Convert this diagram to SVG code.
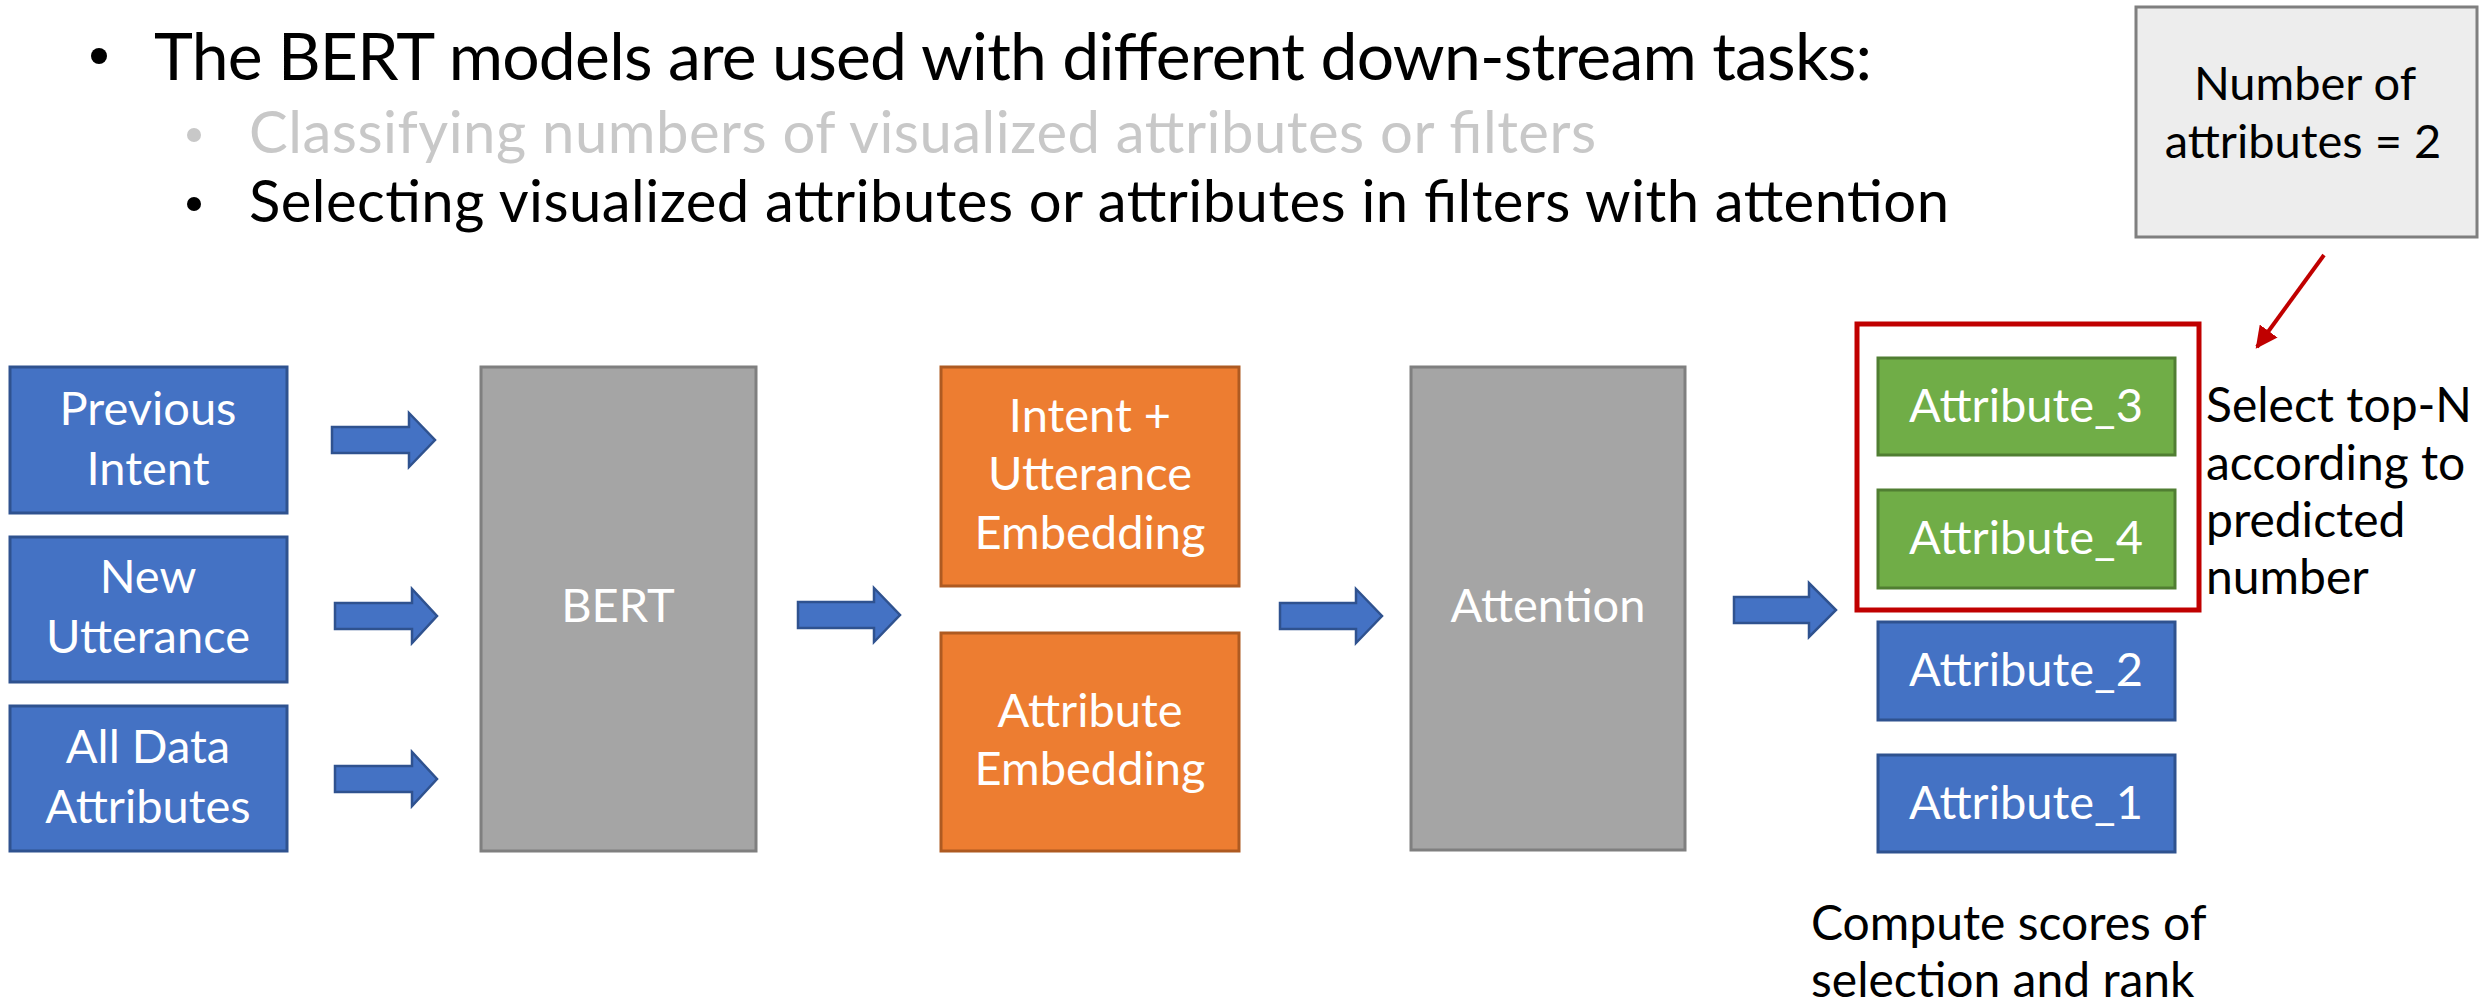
<svg xmlns="http://www.w3.org/2000/svg" width="2479" height="1003" viewBox="0 0 2479 1003">
<style>
text{font-family:Lato,"Noto Sans","Liberation Sans",sans-serif;font-weight:400}
.w{fill:#ffffff;font-size:47px;text-anchor:middle}
.blue{fill:#4472c4;stroke:#2f528f;stroke-width:3}
.gray{fill:#a5a5a5;stroke:#7f7f7f;stroke-width:3}
.orange{fill:#ed7d31;stroke:#ae5a21;stroke-width:3}
.green{fill:#70ad47;stroke:#507e32;stroke-width:3}
.arr{fill:#4472c4;stroke:#2f528f;stroke-width:2.5;stroke-linejoin:miter}
.t1{font-size:66px;fill:#000}
.t2{font-size:58px}
.b{font-size:48px;fill:#000}
</style>
<defs>
<marker id="rh" viewBox="0 0 10 10" refX="9" refY="5" markerWidth="5.5" markerHeight="5.5" orient="auto" markerUnits="strokeWidth">
<path d="M0,0 L10,5 L0,10 z" fill="#c00000"/>
</marker>
</defs>
<rect width="2479" height="1003" fill="#ffffff"/>

<g id="title">
<circle cx="99" cy="56" r="8" fill="#000"/>
<text class="t1" x="154" y="80" textLength="1718">The BERT models are used with different down-stream tasks:</text>
<circle cx="194" cy="135" r="7" fill="#c8c8c8"/>
<text class="t2" x="249" y="153" fill="#c8c8c8" textLength="1347">Classifying numbers of visualized attributes or filters</text>
<circle cx="194" cy="204" r="7" fill="#000"/>
<text class="t2" x="249" y="222" fill="#000" textLength="1700">Selecting visualized attributes or attributes in filters with attention</text>
</g>

<g id="previous-intent">
<rect class="blue" x="10" y="367" width="277" height="146"/>
<text class="w" x="148" y="425">Previous</text>
<text class="w" x="148" y="485">Intent</text>
</g>
<g id="new-utterance">
<rect class="blue" x="10" y="537" width="277" height="145"/>
<text class="w" x="148" y="593">New</text>
<text class="w" x="148" y="653">Utterance</text>
</g>
<g id="all-data-attributes">
<rect class="blue" x="10" y="706" width="277" height="145"/>
<text class="w" x="148" y="763">All Data</text>
<text class="w" x="148" y="823">Attributes</text>
</g>

<g id="bert">
<rect class="gray" x="481" y="367" width="275" height="484"/>
<text class="w" x="618" y="622">BERT</text>
</g>

<g id="intent-utterance-embedding">
<rect class="orange" x="941" y="367" width="298" height="219"/>
<text class="w" x="1090" y="432">Intent +</text>
<text class="w" x="1090" y="490">Utterance</text>
<text class="w" x="1090" y="549">Embedding</text>
</g>
<g id="attribute-embedding">
<rect class="orange" x="941" y="633" width="298" height="218"/>
<text class="w" x="1090" y="727">Attribute</text>
<text class="w" x="1090" y="785">Embedding</text>
</g>

<g id="attention">
<rect class="gray" x="1411" y="367" width="274" height="483"/>
<text class="w" x="1548" y="622">Attention</text>
</g>

<g id="selection-box">
<rect x="1857" y="324" width="342" height="286" fill="none" stroke="#c00000" stroke-width="5"/>
</g>
<g id="attribute-3">
<rect class="green" x="1878" y="358" width="297" height="97"/>
<text class="w" x="2026" y="422" font-size="48">Attribute_3</text>
</g>
<g id="attribute-4">
<rect class="green" x="1878" y="490" width="297" height="98"/>
<text class="w" x="2026" y="554" font-size="48">Attribute_4</text>
</g>
<g id="attribute-2">
<rect class="blue" x="1878" y="622" width="297" height="98"/>
<text class="w" x="2026" y="686" font-size="48">Attribute_2</text>
</g>
<g id="attribute-1">
<rect class="blue" x="1878" y="755" width="297" height="97"/>
<text class="w" x="2026" y="819" font-size="48">Attribute_1</text>
</g>

<g id="number-box">
<rect x="2136" y="7" width="341" height="230" fill="#ededed" stroke="#7f7f7f" stroke-width="3"/>
<text x="2305" y="100" font-size="47" text-anchor="middle" fill="#000">Number of</text>
<text x="2303" y="158" font-size="47" text-anchor="middle" fill="#000">attributes = 2</text>
</g>

<g id="select-label">
<text class="b" x="2206" y="422">Select top-N</text>
<text class="b" x="2206" y="480">according to</text>
<text class="b" x="2206" y="537">predicted</text>
<text class="b" x="2206" y="594">number</text>
</g>
<g id="compute-label">
<text class="b" x="1811" y="940">Compute scores of</text>
<text class="b" x="1811" y="997">selection and rank</text>
</g>

<g id="connectors">
<polygon class="arr" points="332,427 409,427 409,413 435,440 409,467 409,453 332,453"/>
<polygon class="arr" points="335,603 412,603 412,589 437,616 412,643 412,629 335,629"/>
<polygon class="arr" points="335,766 412,766 412,752 437,779 412,806 412,792 335,792"/>
<polygon class="arr" points="798,602 874,602 874,588 900,615 874,642 874,628 798,628"/>
<polygon class="arr" points="1280,603 1356,603 1356,589 1382,616 1356,643 1356,629 1280,629"/>
<polygon class="arr" points="1734,597 1809,597 1809,583 1836,610 1809,637 1809,623 1734,623"/>
<line x1="2324" y1="255" x2="2257" y2="347" stroke="#c00000" stroke-width="4" marker-end="url(#rh)"/>
</g>
</svg>
